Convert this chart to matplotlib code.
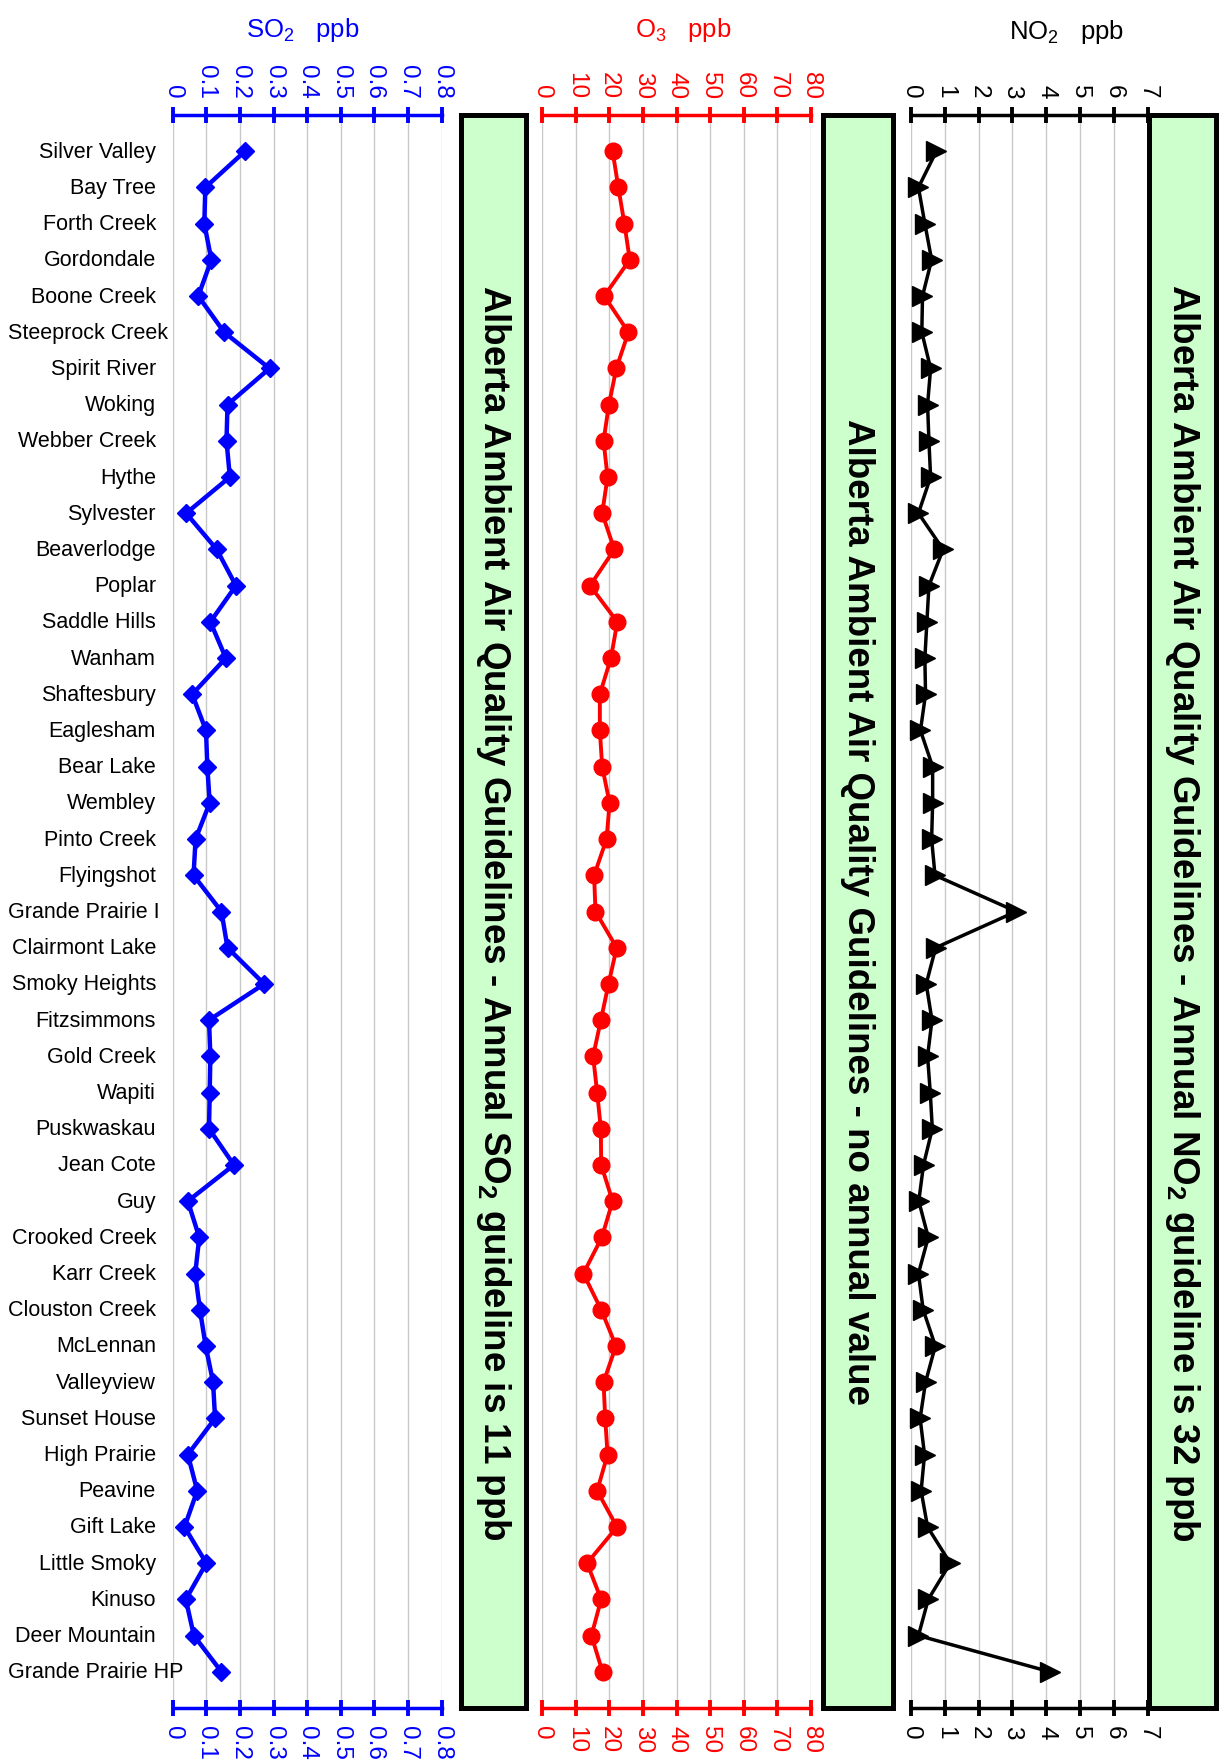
import numpy as np
import matplotlib
matplotlib.use('Agg')
import matplotlib.pyplot as plt
import matplotlib.transforms as mtransforms
from matplotlib.patches import Rectangle
from matplotlib.ticker import FuncFormatter

plt.rcParams['font.family'] = 'Liberation Sans'
plt.rcParams['mathtext.fontset'] = 'custom'
plt.rcParams['mathtext.rm'] = 'Liberation Sans'
plt.rcParams['mathtext.it'] = 'Liberation Sans:italic'
plt.rcParams['mathtext.bf'] = 'Liberation Sans:bold'

# =========================
# DADOS (médias anuais, ppb)
# =========================
estacoes = ['Silver Valley', 'Bay Tree', 'Forth Creek', 'Gordondale', 'Boone Creek',
            'Steeprock Creek', 'Spirit River', 'Woking', 'Webber Creek', 'Hythe',
            'Sylvester', 'Beaverlodge', 'Poplar', 'Saddle Hills', 'Wanham',
            'Shaftesbury', 'Eaglesham', 'Bear Lake', 'Wembley', 'Pinto Creek',
            'Flyingshot', 'Grande Prairie I', 'Clairmont Lake', 'Smoky Heights',
            'Fitzsimmons', 'Gold Creek', 'Wapiti', 'Puskwaskau', 'Jean Cote', 'Guy',
            'Crooked Creek', 'Karr Creek', 'Clouston Creek', 'McLennan', 'Valleyview',
            'Sunset House', 'High Prairie', 'Peavine', 'Gift Lake', 'Little Smoky',
            'Kinuso', 'Deer Mountain', 'Grande Prairie HP']

so2 = [0.215, 0.097, 0.094, 0.115, 0.076, 0.153, 0.288, 0.163, 0.160, 0.170,
       0.040, 0.131, 0.188, 0.112, 0.158, 0.058, 0.099, 0.103, 0.110, 0.068,
       0.062, 0.145, 0.163, 0.272, 0.108, 0.112, 0.110, 0.108, 0.182, 0.045,
       0.079, 0.067, 0.081, 0.098, 0.120, 0.126, 0.045, 0.073, 0.035, 0.100,
       0.039, 0.063, 0.145]

o3 = [21.0, 22.7, 24.5, 26.1, 18.5, 25.7, 22.1, 19.9, 18.3, 19.5,
      17.9, 21.5, 14.3, 22.4, 20.5, 17.2, 17.2, 17.9, 20.1, 19.2,
      15.5, 15.9, 22.2, 19.8, 17.5, 15.2, 16.4, 17.5, 17.6, 21.0,
      17.8, 12.3, 17.6, 22.0, 18.3, 18.8, 19.5, 16.4, 22.3, 13.4,
      17.6, 14.7, 18.0]

no2 = [0.75, 0.22, 0.41, 0.61, 0.34, 0.32, 0.58, 0.49, 0.53, 0.58,
       0.22, 0.95, 0.53, 0.47, 0.41, 0.43, 0.28, 0.64, 0.64, 0.61,
       0.71, 3.11, 0.73, 0.45, 0.62, 0.49, 0.57, 0.63, 0.37, 0.23,
       0.51, 0.22, 0.36, 0.72, 0.43, 0.27, 0.40, 0.30, 0.49, 1.16,
       0.51, 0.22, 4.11]

so2_ticks = [0, 0.1, 0.2, 0.3, 0.4, 0.5, 0.6, 0.7, 0.8]
o3_ticks = [0, 10, 20, 30, 40, 50, 60, 70, 80]
no2_ticks = [0, 1, 2, 3, 4, 5, 6, 7]

textos_caixa = [
    r'Alberta Ambient Air Quality Guidelines - Annual SO$_\mathbf{2}$ guideline is 11 ppb',
    'Alberta Ambient Air Quality Guidelines - no annual value',
    r'Alberta Ambient Air Quality Guidelines - Annual NO$_\mathbf{2}$ guideline is 32 ppb',
]

# =========================
# LAYOUT (pixels da figura)
# =========================
W, H = 1222, 1765
Y_TOPO, Y_BASE = 116, 1709

fig = plt.figure(figsize=(W / 100, H / 100), dpi=100)


def fmt_g(x, pos=None):
    return f'{x:g}'


def painel(x0, x1, valores, ticks, cor, marcador, ms, lw, titulo, x_titulo, y_titulo):
    ax = fig.add_axes([x0 / W, 1 - Y_BASE / H, (x1 - x0) / W, (Y_BASE - Y_TOPO) / H])
    y = np.arange(len(valores))
    ax.plot(valores, y, color=cor, lw=lw, marker=marcador, ms=ms,
            mfc=cor, mec=cor, mew=1, clip_on=False, zorder=3)
    ax.set_xlim(ticks[0], ticks[-1])
    ax.set_ylim(len(valores), -1)
    ax.set_xticks(ticks)
    ax.xaxis.set_major_formatter(FuncFormatter(fmt_g))
    ax.tick_params(axis='x', top=True, bottom=True, labeltop=True, labelbottom=True,
                   direction='inout', length=11, width=2.8, pad=7, color=cor,
                   labelcolor=cor, labelsize=17.5, labelrotation=-90)
    ax.tick_params(axis='y', left=False, labelleft=False)
    for lado in ['left', 'right']:
        ax.spines[lado].set_visible(False)
    for lado in ['top', 'bottom']:
        ax.spines[lado].set_color(cor)
        ax.spines[lado].set_linewidth(2.5)
    ax.grid(axis='x', color='#c8c8c8', lw=1.0)
    ax.set_axisbelow(True)
    fig.text(x_titulo / W, 1 - y_titulo / H, titulo, color=cor, fontsize=18.5,
             ha='center', va='center')
    return ax


ax_so2 = painel(172.7, 441.7, so2, so2_ticks, '#0000FF', 'D', 9.5, 3.2,
                'SO$_2$   ppb', 303, 30)
ax_o3 = painel(542, 811, o3, o3_ticks, '#FF0000', 'o', 12, 2.8,
               'O$_3$   ppb', 683, 30)
ax_no2 = painel(911, 1147.7, no2, no2_ticks, '#000000', '>', 14.5, 2.5,
                'NO$_2$   ppb', 1066, 32)

# caixas verdes com as diretrizes
caixas = [(460.5, 525.5), (822.5, 892.5), (1148.5, 1215.5)]
for (bx0, bx1), txt in zip(caixas, textos_caixa):
    r = Rectangle((bx0 / W, 1 - Y_BASE / H), (bx1 - bx0) / W, (Y_BASE - Y_TOPO) / H,
                  transform=fig.transFigure, facecolor='#CCFFCC', edgecolor='black', lw=3.6)
    fig.add_artist(r)
    fig.text((bx0 + bx1) / 2 / W, 1 - (Y_TOPO + Y_BASE) / 2 / H, txt, rotation=-90,
             ha='center', va='center', fontsize=26.5, fontweight='bold', color='black')

# rótulos das estações (alinhados à direita, presos à margem esquerda se longos)
trans = mtransforms.blended_transform_factory(fig.transFigure, ax_so2.transData)
rotulos = []
for i, nome in enumerate(estacoes):
    t = fig.text(156 / W, i, nome, transform=trans, ha='right', va='center',
                 fontsize=15.5, color='black')
    rotulos.append(t)

fig.canvas.draw()
rend = fig.canvas.get_renderer()
for t in rotulos:
    bb = t.get_window_extent(rend)
    if bb.x0 < 8:
        t.set_x(8 / W)
        t.set_ha('left')

fig.savefig('out.png', dpi=100)
